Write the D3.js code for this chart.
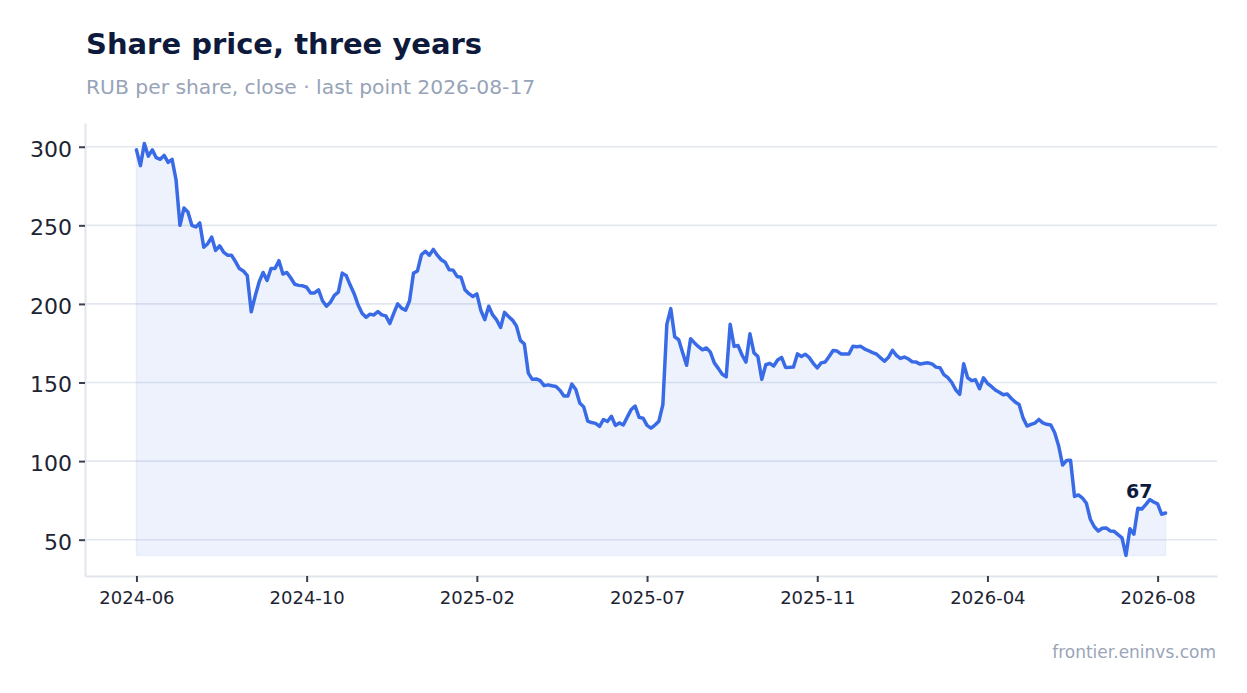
<!DOCTYPE html>
<html><head><meta charset="utf-8">
<script src="https://cdn.jsdelivr.net/npm/d3@7"></script>
<style>
html,body{margin:0;padding:0;background:#fff;}
svg{display:block;font-family:"DejaVu Sans",sans-serif;}
</style></head><body>
<svg id="chart" width="1247" height="693"></svg>
<script>
// Daily-ish closing prices, RUB per share
const closes = [
298,288,302,294,298,293,292,294.5,290,292,
279,250,261,258.5,250,249,251.5,236,238.3,242.5,
234,237,233,231,231,227,222.5,221,218,195,
205,214,220,215,222.5,222.5,227.5,219,220,216.5,
212.5,211.8,211.5,210.6,207,207,209,202,198.5,201,
205.5,207.5,219.6,218,212,206.5,199.3,194,191.5,193.5,
193,195.2,193,192.4,187.5,194,200,197.3,196,202,
219.6,221,231.3,233.5,231,234.7,231,228.1,226.5,221.7,
221.5,217.5,217,209,206.5,204.7,206.4,196,190,198.5,
193,189.8,185,194.6,192,189.7,186,176.8,174.5,156,
152,152.3,151.2,148,148.5,147.9,147.5,145,141.4,141.4,
149,145.5,137,134.5,125.5,124.5,124,122.1,126.5,125.2,
128.5,122.7,124.3,123,128,132.8,135,127.8,127.3,122.7,
121,122.9,125.4,136,187,197,179,177.2,169,161,
177.9,175.2,172.8,170.8,172,169.3,162.5,159,155.3,153.6,
187,173,173.5,167.5,163,181,169,166.5,152,161.3,
162.2,160.5,164.3,166,159.6,159.7,159.9,168.2,166.5,168,
165.8,162.2,159.3,162.5,163,166.5,170.4,170,168.2,168.2,
168.1,173,172.8,173,171.3,170.2,169,168,165.7,163.5,
166,170.5,167.3,165.3,166.2,165,163.2,163,161.7,162.3,
162.5,161.8,159.8,159.4,155,153.1,150,145.3,142.5,162,
153,151.2,151.7,146,153,149.5,147.5,145.2,143.8,142.2,
142.7,140,137.6,136,127.5,122.3,123.4,124.2,126.5,124.3,
123.4,123,118,109.6,97.5,100.4,100.5,77.5,78.5,76.5,
73.2,63,58.2,55.5,57.3,57.5,55.6,55.3,53.2,51.2,
40,57,53.5,70,69.5,72.3,75.5,74,72.8,66.2,
67
];
const tickLabels = ["2024-06","2024-10","2025-02","2025-07","2025-11","2026-04","2026-08"];
const tickStep = 43; // trading days between labelled ticks
const yTicks = [50,100,150,200,250,300];
const titleText = "Share price, three years";
const subtitleText = "RUB per share, close \u00b7 last point 2026-08-17";
const sourceText = "frontier.eninvs.com";

const svg = d3.select("#chart");
const W = 1247, H = 693;
const m = {left:85, right:30, top:123, bottom:117};
const x0 = m.left, x1 = W - m.right, y0 = H - m.bottom, y1 = m.top;

const n = closes.length;
const x = d3.scaleLinear().domain([-0.05*(n-1), 1.05*(n-1)]).range([x0, x1]);
const mn = d3.min(closes), mx = d3.max(closes), R = mx - mn;
const y = d3.scaleLinear().domain([mn - 0.05*R, mx + 0.05*R]).range([y0, y1]);

// title
svg.append("text").attr("x",86).attr("y",54)
  .attr("font-size",29).attr("font-weight","bold").attr("fill","#0e1a3c")
  .text(titleText);
svg.append("text").attr("x",86).attr("y",94)
  .attr("font-size",20.3).attr("fill","#97a3b7")
  .text(subtitleText);

// grid
svg.append("g").selectAll("line").data(yTicks).join("line")
  .attr("x1",x0).attr("x2",x1)
  .attr("y1",d=>y(d)).attr("y2",d=>y(d))
  .attr("stroke","#e3e7ef").attr("stroke-width",1.6);

// area
const area = d3.area().x((d,i)=>x(i)).y0(y(mn)).y1(d=>y(d));
svg.append("path").datum(closes).attr("d",area)
  .attr("fill","rgba(59,108,230,0.085)")
  .attr("stroke","rgba(59,108,230,0.07)").attr("stroke-width",1.5);

// line
const line = d3.line().x((d,i)=>x(i)).y(d=>y(d));
svg.append("path").datum(closes).attr("d",line)
  .attr("fill","none").attr("stroke","#3a6be6").attr("stroke-width",3.5)
  .attr("stroke-linejoin","round").attr("stroke-linecap","round");

// axes
const gy = svg.append("g").attr("transform",`translate(${x0},0)`)
  .call(d3.axisLeft(y).tickValues(yTicks).tickSize(6).tickSizeOuter(0).tickPadding(7));
gy.select(".domain").attr("stroke","#e1e5ee").attr("stroke-width",2);
gy.selectAll(".tick line").attr("stroke","#3a3f4c").attr("stroke-width",2);
gy.selectAll(".tick text").attr("font-size",22).attr("fill","#1d2433")
  .attr("font-family","DejaVu Sans, sans-serif").attr("dy","0.43em");

const tickIdx = tickLabels.map((_,i)=>i*tickStep);
const gx = svg.append("g").attr("transform",`translate(0,${y0})`)
  .call(d3.axisBottom(x).tickValues(tickIdx).tickFormat((d,i)=>tickLabels[i])
    .tickSize(6).tickSizeOuter(0).tickPadding(9));
gx.select(".domain").attr("stroke","#e1e5ee").attr("stroke-width",2);
gx.selectAll(".tick line").attr("stroke","#3a3f4c").attr("stroke-width",2);
gx.selectAll(".tick text").attr("font-size",18).attr("fill","#1d2433")
  .attr("font-family","DejaVu Sans, sans-serif");

// last value label
const lastV = closes[n-1];
svg.append("text").attr("x",x(n-1)-13).attr("y",y(lastV)-15)
  .attr("text-anchor","end").attr("font-size",19).attr("font-weight","bold")
  .attr("fill","#0e1a3c").text(d3.format("d")(lastV));

// source
svg.append("text").attr("x",1216).attr("y",658).attr("text-anchor","end")
  .attr("font-size",17).attr("fill","#9aa5b8").text(sourceText);
</script>
</body></html>
